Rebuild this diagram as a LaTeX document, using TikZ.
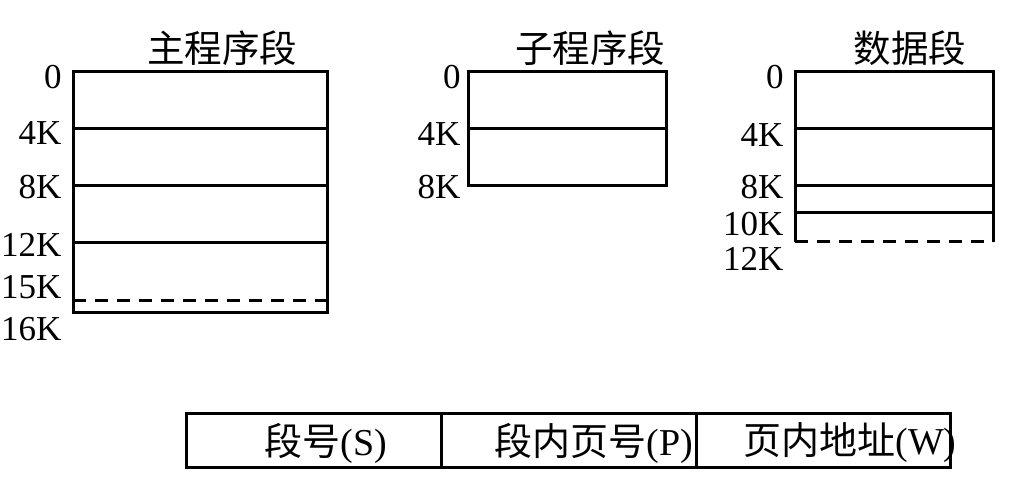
\documentclass[tikz,border=0pt]{standalone}
\usepackage{fontspec}
\setmainfont{Liberation Serif}
\newfontfamily\cjk{Noto Sans CJK SC}
\begin{document}
\begin{tikzpicture}[x=1pt,y=-1pt, line width=3pt,
  lbl/.style={anchor=east,inner sep=0pt,font=\fontsize{35}{35}\selectfont},
  ttl/.style={inner sep=0pt,font=\fontsize{37.5}{38}\selectfont\cjk},
  cell/.style={inner sep=0pt,font=\fontsize{38}{38}\selectfont},
  dsh/.style={dash pattern=on 13pt off 9pt}]
\useasboundingbox (0,0) rectangle (1019,486);
% main segment
\node[ttl] (t1) at (222,48) {主程序段};
\draw (73,72) rectangle (327,312);
\draw (73,129) -- (327,129);
\draw (73,186) -- (327,186);
\draw (73,243) -- (327,243);
\draw[dsh] (73,300) -- (327,300);
\node[lbl] (m0) at (63,77) {0};
\node[lbl] (m4) at (63,133) {4K};
\node[lbl] (m8) at (63,187) {8K};
\node[lbl] (m12) at (63,245) {12K};
\node[lbl] (m15) at (63,287) {15K};
\node[lbl] (m16) at (63,329) {16K};
% sub program segment
\node[ttl] (t2) at (590,48) {子程序段};
\draw (468,72) rectangle (666,186);
\draw (468,129) -- (666,129);
\node[lbl] (s0) at (462,77) {0};
\node[lbl] (s4) at (462,134) {4K};
\node[lbl] (s8) at (462,187) {8K};
% data segment
\node[ttl] (t3) at (910,48) {数据段};
\draw (795,242) -- (795,72) -- (993,72) -- (993,242);
\draw (795,129) -- (993,129);
\draw (795,186) -- (993,186);
\draw (795,213) -- (993,213);
\draw[dsh] (795,242) -- (993,242);
\node[lbl] (d0) at (785,77) {0};
\node[lbl] (d4) at (785,135) {4K};
\node[lbl] (d8) at (785,187) {8K};
\node[lbl] (d10) at (785,224) {10K};
\node[lbl] (d12) at (785,259) {12K};
% address format
\draw (186,413) rectangle (950,467);
\draw (441,413) -- (441,467);
\draw (696,413) -- (696,467);
\node[cell] (c1) at (326,443) {{\cjk 段号}(S)};
\node[cell] (c2) at (594,443) {{\cjk 段内页号}(P)};
\node[cell] (c3) at (850,443) {{\cjk 页内地址}(W)};
\end{tikzpicture}
\end{document}
